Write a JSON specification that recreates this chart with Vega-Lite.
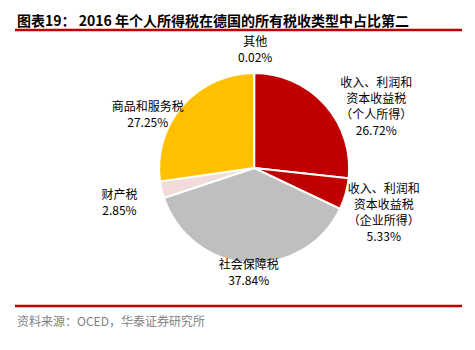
{
  "$schema": "https://vega.github.io/schema/vega-lite/v6.json",
  "autosize": {"type": "none"},
  "width": 447,
  "height": 276,
  "padding": {"left": 15, "top": 30, "right": 13, "bottom": 44},
  "background": "#ffffff",
  "config": {"view": {"stroke": null}, "font": "Noto Sans CJK SC"},
  "title": {
    "text": "图表19：  2016 年个人所得税在德国的所有税收类型中占比第二",
    "anchor": "start",
    "frame": "group",
    "font": "Noto Sans CJK SC",
    "fontSize": 14,
    "fontWeight": "bold",
    "color": "#000000",
    "offset": 0,
    "dx": 2
  },
  "data": {
    "values": [
      {"idx": 1, "cat": "其他", "value": 0.02, "label": "其他\n0.02%"},
      {"idx": 2, "cat": "个人所得", "value": 26.72, "label": "收入、利润和\n资本收益税\n（个人所得）\n26.72%"},
      {"idx": 3, "cat": "企业所得", "value": 5.33, "label": "收入、利润和\n资本收益税\n（企业所得）\n5.33%"},
      {"idx": 4, "cat": "社会保障税", "value": 37.84, "label": "社会保障税\n37.84%"},
      {"idx": 5, "cat": "财产税", "value": 2.85, "label": "财产税\n2.85%"},
      {"idx": 6, "cat": "商品和服务税", "value": 27.25, "label": "商品和服务税\n27.25%"}
    ]
  },
  "layer": [
    {
      "data": {"values": [{"k": 1}]},
      "mark": {"type": "rule", "color": "#C00000", "strokeWidth": 2.5},
      "encoding": {"y": {"datum": 1, "type": "quantitative", "scale": {"domain": [0, 1]}, "axis": null}}
    },
    {
      "data": {"values": [{"k": 1}]},
      "mark": {"type": "rule", "color": "#C00000", "strokeWidth": 2.5},
      "encoding": {"y": {"datum": 0, "type": "quantitative", "scale": {"domain": [0, 1]}, "axis": null}}
    },
    {
      "data": {"values": [{"src": "资料来源：OCED，华泰证券研究所"}]},
      "mark": {"type": "text", "align": "left", "baseline": "middle", "dx": 2, "dy": 16, "fontSize": 12, "color": "#7F7F7F", "font": "Noto Sans CJK SC"},
      "encoding": {
        "x": {"datum": 0, "type": "quantitative", "scale": {"domain": [0, 1]}, "axis": null},
        "y": {"datum": 0, "type": "quantitative", "scale": {"domain": [0, 1]}, "axis": null},
        "text": {"field": "src"}
      }
    },
    {
      "mark": {"type": "arc", "outerRadius": 95, "stroke": "#ffffff", "strokeWidth": 2},
      "encoding": {
        "theta": {"field": "value", "type": "quantitative", "stack": true},
        "order": {"field": "idx", "type": "quantitative"},
        "color": {"field": "cat", "type": "nominal", "legend": null,
          "scale": {"domain": ["其他", "个人所得", "企业所得", "社会保障税", "财产税", "商品和服务税"],
                    "range": ["#7F7F7F", "#C00000", "#C00000", "#BFBFBF", "#F2DCDB", "#FFC000"]}},
        "x": {"datum": 0.535, "type": "quantitative", "scale": {"domain": [0, 1]}, "axis": null}
      }
    },
    {
      "mark": {"type": "text", "radius": 112, "dx": 1, "dy": -14, "lineBreak": "\n", "lineHeight": 16, "fontSize": 12, "font": "Noto Sans CJK SC", "color": "#000000", "align": "center", "baseline": "middle"},
      "encoding": {
        "theta": {"field": "value", "type": "quantitative", "stack": true},
        "order": {"field": "idx", "type": "quantitative"},
        "x": {"datum": 0.535, "type": "quantitative", "scale": {"domain": [0, 1]}, "axis": null},
        "text": {"condition": {"test": "datum.idx === 1", "field": "label"}, "value": ""}
      }
    },
    {
      "mark": {"type": "text", "radius": 125, "dx": 29, "dy": -2, "lineBreak": "\n", "lineHeight": 16, "fontSize": 12, "font": "Noto Sans CJK SC", "color": "#000000", "align": "center", "baseline": "middle"},
      "encoding": {
        "theta": {"field": "value", "type": "quantitative", "stack": true},
        "order": {"field": "idx", "type": "quantitative"},
        "x": {"datum": 0.535, "type": "quantitative", "scale": {"domain": [0, 1]}, "axis": null},
        "text": {"condition": {"test": "datum.idx === 2", "field": "label"}, "value": ""}
      }
    },
    {
      "mark": {"type": "text", "radius": 115, "dx": 19, "dy": -10, "lineBreak": "\n", "lineHeight": 16, "fontSize": 12, "font": "Noto Sans CJK SC", "color": "#000000", "align": "center", "baseline": "middle"},
      "encoding": {
        "theta": {"field": "value", "type": "quantitative", "stack": true},
        "order": {"field": "idx", "type": "quantitative"},
        "x": {"datum": 0.535, "type": "quantitative", "scale": {"domain": [0, 1]}, "axis": null},
        "text": {"condition": {"test": "datum.idx === 3", "field": "label"}, "value": ""}
      }
    },
    {
      "mark": {"type": "text", "radius": 104, "dx": 1, "dy": -7, "lineBreak": "\n", "lineHeight": 16, "fontSize": 12, "font": "Noto Sans CJK SC", "color": "#000000", "align": "center", "baseline": "middle"},
      "encoding": {
        "theta": {"field": "value", "type": "quantitative", "stack": true},
        "order": {"field": "idx", "type": "quantitative"},
        "x": {"datum": 0.535, "type": "quantitative", "scale": {"domain": [0, 1]}, "axis": null},
        "text": {"condition": {"test": "datum.idx === 4", "field": "label"}, "value": ""}
      }
    },
    {
      "mark": {"type": "text", "radius": 125, "dx": -13, "dy": -2, "lineBreak": "\n", "lineHeight": 16, "fontSize": 12, "font": "Noto Sans CJK SC", "color": "#000000", "align": "center", "baseline": "middle"},
      "encoding": {
        "theta": {"field": "value", "type": "quantitative", "stack": true},
        "order": {"field": "idx", "type": "quantitative"},
        "x": {"datum": 0.535, "type": "quantitative", "scale": {"domain": [0, 1]}, "axis": null},
        "text": {"condition": {"test": "datum.idx === 5", "field": "label"}, "value": ""}
      }
    },
    {
      "mark": {"type": "text", "radius": 125, "dx": -12, "dy": 21, "lineBreak": "\n", "lineHeight": 16, "fontSize": 12, "font": "Noto Sans CJK SC", "color": "#000000", "align": "center", "baseline": "middle"},
      "encoding": {
        "theta": {"field": "value", "type": "quantitative", "stack": true},
        "order": {"field": "idx", "type": "quantitative"},
        "x": {"datum": 0.535, "type": "quantitative", "scale": {"domain": [0, 1]}, "axis": null},
        "text": {"condition": {"test": "datum.idx === 6", "field": "label"}, "value": ""}
      }
    }
  ]
}
